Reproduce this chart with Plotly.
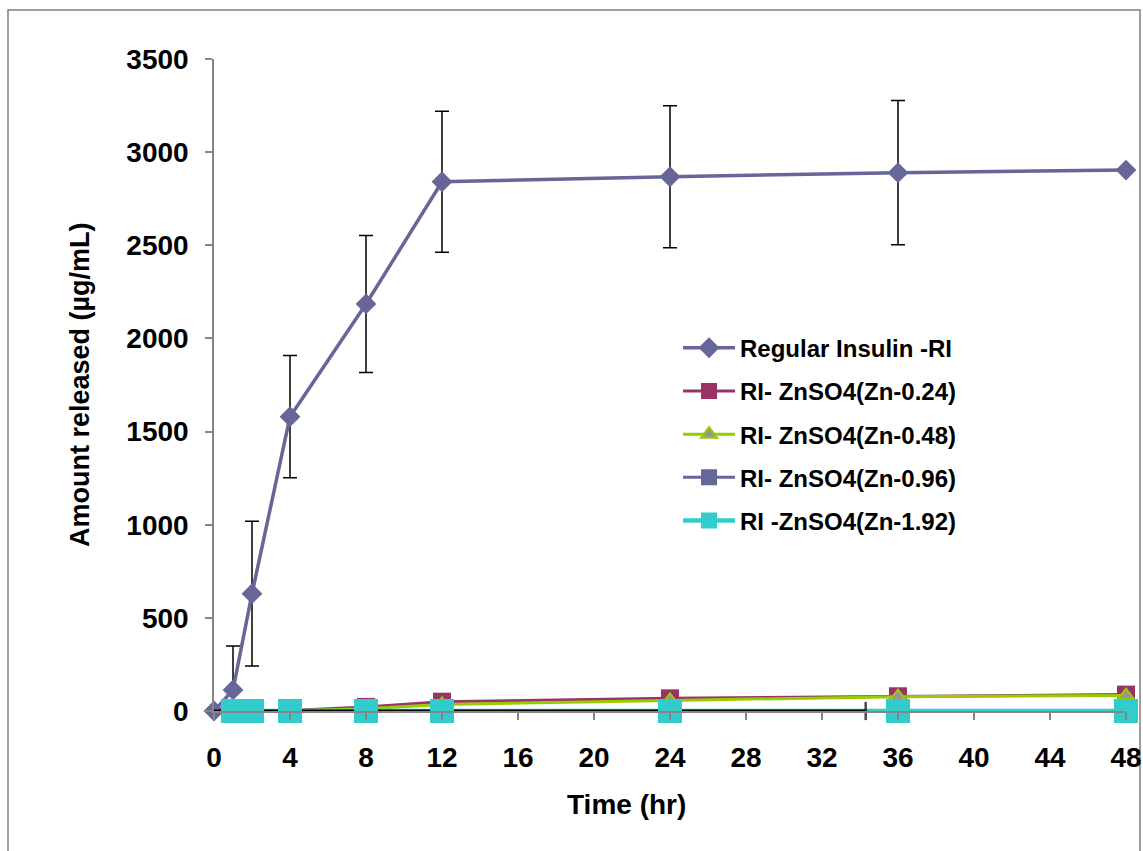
import plotly.graph_objects as go

# ---- data ----
time_ri = [0, 1, 2, 4, 8, 12, 24, 36, 48]
regular_insulin = [0, 113, 630, 1580, 2185, 2841, 2868, 2890, 2904]
regular_insulin_err = [0, 236, 389, 328, 368, 378, 381, 387, 0]

time_zn = [1, 2, 4, 8, 12, 24, 36, 48]
zn_024 = [0, 0, 3, 22, 50, 68, 79, 88]
zn_048 = [0, 0, 2, 12, 35, 57, 77, 83]
zn_096 = [0, 0, 0, 0, 0, 0, 0, 0]
zn_192 = [0, 0, 0, 0, 0, 0, 0, 0]

# horizontal error bar (black) seen along the baseline
herr_x = [0, 34.3]
herr_y = [0, 0]

names = ["Regular Insulin -RI", "RI- ZnSO4(Zn-0.24)", "RI- ZnSO4(Zn-0.48)",
         "RI- ZnSO4(Zn-0.96)", "RI -ZnSO4(Zn-1.92)"]
x_ticks = list(range(0, 49, 4))
y_ticks = list(range(0, 3501, 500))

FONT = "Liberation Sans, Arial, sans-serif"

fig = go.Figure()

fig.add_trace(go.Scatter(
    x=time_ri, y=regular_insulin, name=names[0], mode="lines+markers",
    line=dict(color="#666699", width=3.5),
    marker=dict(symbol="diamond", size=16, color="#666699"),
    error_y=dict(type="data", array=regular_insulin_err, visible=True,
                 color="black", thickness=1.5, width=7),
    legendgroup="g1", cliponaxis=False))

fig.add_trace(go.Scatter(
    x=time_zn, y=zn_024, name=names[1], mode="lines+markers",
    line=dict(color="#993366", width=3),
    marker=dict(symbol="square", size=18, color="#993366"),
    legendgroup="g2", cliponaxis=False))

fig.add_trace(go.Scatter(
    x=time_zn, y=zn_048, name=names[2], mode="lines+markers",
    line=dict(color="#99CC00", width=3),
    marker=dict(symbol="triangle-up", size=14, color="#969696",
                line=dict(color="#99CC00", width=2)),
    legendgroup="g3", cliponaxis=False))

fig.add_trace(go.Scatter(
    x=time_zn, y=zn_096, name=names[3], mode="lines+markers",
    line=dict(color="#666699", width=3),
    marker=dict(symbol="square", size=24, color="#666699"),
    legendgroup="g4", cliponaxis=False))

fig.add_trace(go.Scatter(
    x=time_zn, y=zn_192, name=names[4], mode="lines+markers",
    line=dict(color="#33CCCC", width=4.5),
    marker=dict(symbol="square", size=24, color="#33CCCC"),
    legendgroup="g5", cliponaxis=False))

fig.add_trace(go.Scatter(
    x=herr_x, y=herr_y, mode="lines+markers", showlegend=False,
    line=dict(color="black", width=3),
    marker=dict(symbol="line-ns", size=[0, 13], color="black",
                line=dict(color="black", width=2.5)),
    legendgroup="g5", cliponaxis=False, hoverinfo="skip"))

fig.add_trace(go.Scatter(
    x=time_zn, y=zn_192, mode="markers", showlegend=False,
    marker=dict(symbol="square", size=24, color="#33CCCC"),
    legendgroup="g5", cliponaxis=False))

fig.update_layout(
    width=1143, height=851, autosize=False,
    margin=dict(l=214, r=17, t=59, b=140, autoexpand=False),
    paper_bgcolor="white", plot_bgcolor="white",
    font=dict(family=FONT, color="black"),
    showlegend=True,
    legend=dict(x=0.5088, y=0.591, xanchor="left", yanchor="top",
                bgcolor="rgba(0,0,0,0)", itemwidth=52,
                traceorder="grouped", tracegroupgap=9,
                font=dict(family=FONT, size=24, weight="bold", color="black")),
    xaxis=dict(range=[0, 48], tickmode="array", tickvals=x_ticks,
               ticktext=[str(v) for v in x_ticks], automargin=False,
               showline=True, linecolor="#868686", linewidth=1.5,
               ticks="outside", ticklen=7, tickcolor="#868686", tickwidth=1.5,
               showgrid=False, zeroline=False, ticklabelstandoff=14,
               tickfont=dict(family=FONT, size=28, weight="bold")),
    yaxis=dict(range=[0, 3500], tickmode="array", tickvals=y_ticks,
               ticktext=[str(v) for v in y_ticks], automargin=False,
               showline=True, linecolor="#868686", linewidth=1.5,
               ticks="outside", ticklen=7, tickcolor="#868686", tickwidth=1.5,
               showgrid=False, zeroline=False, ticklabelstandoff=11,
               tickfont=dict(family=FONT, size=28, weight="bold")),
    annotations=[
        dict(text="Time (hr)", xref="paper", yref="paper",
             x=(626 - 214) / 912, y=(711 - 804) / 652,
             xanchor="center", yanchor="middle", showarrow=False,
             font=dict(family=FONT, size=28, weight="bold")),
        dict(text="Amount released (µg/mL)", xref="paper", yref="paper",
             x=(80 - 214) / 912, y=0.5, textangle=-90,
             xanchor="center", yanchor="middle", showarrow=False,
             font=dict(family=FONT, size=27, weight="bold")),
    ],
    shapes=[dict(type="rect", xref="paper", yref="paper",
                 x0=(8 - 214) / 912, x1=(1140 - 214) / 912,
                 y0=-0.3, y1=(711 - 10) / 652,
                 line=dict(color="#808080", width=1.5), layer="below")],
)

fig.write_html(
    "out.html",
    config={"displayModeBar": False},
    post_script="document.body.style.margin='0';document.body.style.overflow='hidden';",
)
